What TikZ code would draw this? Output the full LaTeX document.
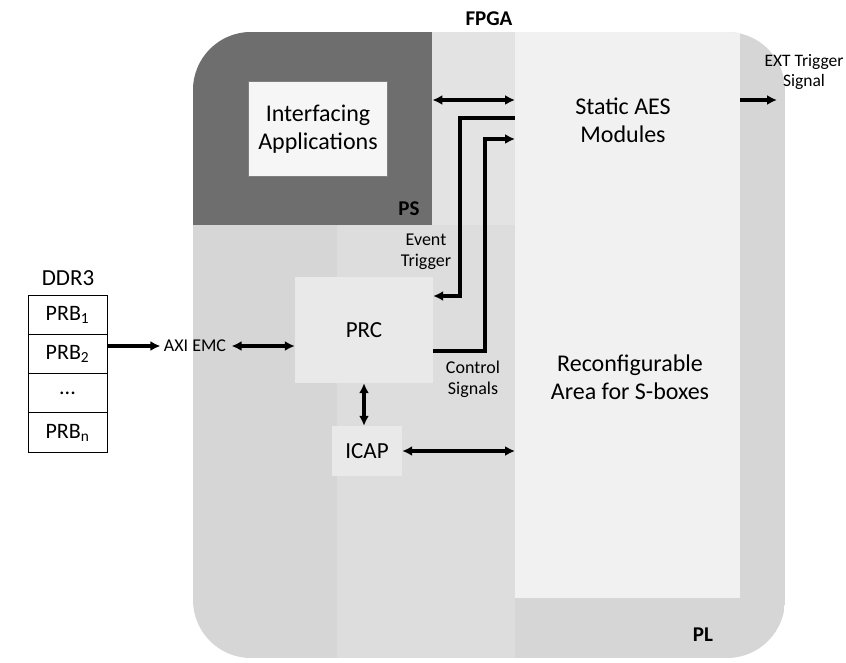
\documentclass[tikz,border=0pt]{standalone}
\usepackage{fontspec}
\setmainfont{Carlito}
\usetikzlibrary{arrows.meta}
\definecolor{fpgagray}{HTML}{D6D6D6}
\definecolor{psgray}{HTML}{6E6E6E}
\definecolor{topgray}{HTML}{E3E3E3}
\definecolor{colgray}{HTML}{F1F1F1}
\definecolor{midgray}{HTML}{DDDDDD}
\definecolor{glowgray}{HTML}{E9E9E9}
\definecolor{appfill}{HTML}{F6F6F6}
\begin{document}
\begin{tikzpicture}[x=1pt,y=-1pt,
  big/.style={font=\fontsize{24}{28}\selectfont, align=center},
  mid/.style={font=\fontsize{23}{26}\selectfont},
  small/.style={font=\fontsize{18}{21}\selectfont, align=center},
  lbl/.style={font=\fontsize{21}{24}\selectfont\bfseries},
  arr/.style={line width=3.2pt, -{Latex[length=10pt,width=10pt]}},
  dblarr/.style={line width=3.2pt, {Latex[length=10pt,width=10pt]}-{Latex[length=10pt,width=10pt]}},
  cell/.style={draw=black, line width=0.9pt, fill=white, minimum width=79pt, minimum height=39.3pt, inner sep=0pt, font=\fontsize{22}{26}\selectfont},
  region/.style={inner sep=0pt, anchor=north west}
]
\useasboundingbox (0,0) rectangle (846,663);
\fill[white] (0,0) rectangle (846,663);

% FPGA body and its regions
\begin{scope}
\clip[rounded corners=58pt] (193,32) rectangle (785,658);
\node[region, fill=fpgagray, minimum width=592pt, minimum height=626pt] (fpga) at (193,32) {};
\node[region, fill=topgray, minimum width=83pt, minimum height=193pt] (topmid) at (432,32) {};
\node[region, fill=midgray, minimum width=178pt, minimum height=433pt] (midarea) at (337,225) {};
\node[region, fill=colgray, minimum width=225pt, minimum height=566pt] (col) at (515,32) {};
\node[region, fill=psgray, minimum width=239pt, minimum height=193pt] (ps) at (193,32) {};
\end{scope}

\node[draw=gray, line width=0.5pt, fill=appfill, minimum width=139pt, minimum height=95pt, big] (app) at (318,129) {Interfacing\\Applications};
\node[lbl] (pslabel) at (409,209) {PS};
\node[lbl] (fpgalabel) at (489,19) {FPGA};
\node[lbl] (pllabel) at (703,635) {PL};

\node[big] (static) at (623,120) {Static AES\\Modules};
\node[big] (reconf) at (630,377) {Reconfigurable\\Area for S-boxes};

\node[fill=glowgray, minimum width=138pt, minimum height=106pt, inner sep=0pt] (prc) at (364,330) {};
\node[font=\fontsize{23}{26}\selectfont] (prctext) at (prc) {PRC};
\node[fill=glowgray, minimum width=70pt, minimum height=50pt, inner sep=0pt, font=\fontsize{23}{26}\selectfont] (icap) at (367,451) {ICAP};

\node[small] (event) at (426,252) {Event\\Trigger};
\node[small] (control) at (473,379) {Control\\Signals};
\node[small] (axi) at (195,346) {AXI EMC};
\node[font=\fontsize{17.5}{20}\selectfont, align=center] (ext) at (804,72) {EXT Trigger\\Signal};

% DDR3 table
\node[mid] (ddr) at (68,278) {DDR3};
\node[cell] (r1) at (67.5,314.6) {PRB\textsubscript{1}};
\node[cell] (r2) at (67.5,353.9) {PRB\textsubscript{2}};
\node[cell] (r3) at (67.5,393.2) {...};
\node[cell] (r4) at (67.5,432.5) {PRB\textsubscript{n}};

% connector anchors
\coordinate (yA) at (0,100);
\coordinate (yB) at (0,118);
\coordinate (yC) at (0,139);
\coordinate (ev) at (460,296);
\coordinate (ctl) at (485,351);
\coordinate (extend) at (777,100);

% connectors
\draw[dblarr] (ps.east |- yA) -- (col.west |- yA);
\draw[arr] (col.west |- yB) -| (ev) -- (prc.east |- ev);
\draw[arr] (prc.east |- ctl) -- (ctl) |- (col.west |- yC);
\draw[arr] (r2.east |- axi) -- (axi.west);
\draw[dblarr] ([xshift=2pt]axi.east) -- (axi.east -| prc.west);
\draw[dblarr] (prc.south) -- (prc.south |- icap.north);
\draw[dblarr] (icap.east) -- (col.west |- icap.east);
\draw[arr] (col.east |- extend) -- (extend);
\end{tikzpicture}
\end{document}
